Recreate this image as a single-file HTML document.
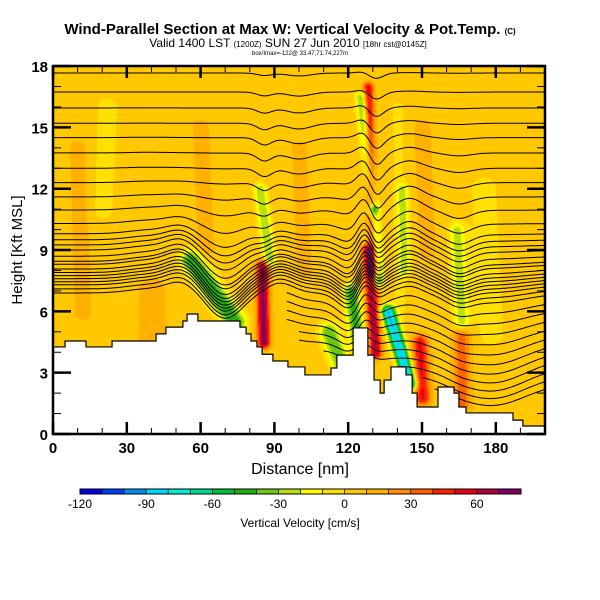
<!DOCTYPE html>
<html><head><meta charset="utf-8">
<style>
html,body{margin:0;padding:0;background:#fff;}
#wrap{position:relative;width:600px;height:600px;overflow:hidden;font-family:"Liberation Sans",sans-serif;}
canvas{position:absolute;left:0;top:0;}
svg{position:absolute;left:0;top:0;}
</style></head>
<body>
<div id="wrap">
<canvas id="field" width="600" height="600"></canvas>
<svg id="ov" width="600" height="600" xmlns="http://www.w3.org/2000/svg">
<text x="290" y="34" text-anchor="middle" font-size="15" font-weight="bold">Wind-Parallel Section at Max W: Vertical Velocity &amp; Pot.Temp. <tspan font-size="8">(C)</tspan></text>
<text x="288" y="47" text-anchor="middle" font-size="12">Valid 1400 LST <tspan font-size="8">(1200Z)</tspan> SUN 27 Jun 2010 <tspan font-size="8">[18hr cst@0145Z]</tspan></text>
<text x="300" y="55" text-anchor="middle" font-size="6">box/Imax=-122@ 33.47,71.74,227m</text>
<g id="contours"></g>
<path id="terrain" fill="#fff" stroke="#000" stroke-width="1.2"/>
<rect x="53" y="66" width="492" height="368" fill="none" stroke="#000" stroke-width="2.5"/>
<g id="ticks"></g>
<g id="ylabels" font-size="15" font-weight="bold" text-anchor="end"></g>
<g id="xlabels" font-size="15" font-weight="bold" text-anchor="middle"></g>
<text x="300" y="474" text-anchor="middle" font-size="16">Distance [nm]</text>
<text transform="translate(22,250) rotate(-90)" text-anchor="middle" font-size="15">Height [Kft MSL]</text>
<g id="cbar"></g>
<g id="cblabels" font-size="12" text-anchor="middle"></g>
<text x="300" y="527" text-anchor="middle" font-size="12">Vertical Velocity [cm/s]</text>
</svg>
</div>
<script>
// ---- data ----
const xTicks = [0,30,60,90,120,150,180];
const yTicks = [0,3,6,9,12,15,18];
const cbTicks = [-120,-90,-60,-30,0,30,60];
const cbColors = ["#0000e0","#0040f0","#0090f0","#00d8f8","#00f0d0","#00d890","#00c040","#20b010","#70c810","#b8e010","#ffff00","#ffe000","#ffc800","#ffb000","#ff9000","#ff6000","#ff2000","#e80018","#b00040","#800060"];
const cbMin = -120, cbStep = 10;
const terrainX = [0,4.9,13.4,24,41.9,45.9,52.8,54.5,58.9,76,78.5,80.5,82.9,85,89.4,95.5,102.4,113,115.4,122,128,130.5,133,134.6,137.4,143.5,146,148,156.5,163,165,167.9,187,191];
const terrainH = [4.26,4.55,4.26,4.55,4.9,5.23,5.53,5.87,5.53,5.23,4.9,4.55,4.26,3.9,3.57,3.28,2.89,3.23,3.86,5.19,3.86,2.64,2.0,2.64,3.28,2.89,2.0,1.32,2.3,2.0,1.32,1.03,0.68,0.39];
// streaks: start dist, start height, end dist, end height, value (cm/s), width (nm)
const streakD0 = [56,85,84,125,130,128,128,136,121,149,166,164,112,142,40,20,100,175,60,150,10,140];
const streakH0 = [8.5,8.2,12,16.5,11,17,9,6,7,4.5,4.8,10,5,12,3.5,11,14,12,15,15,14,16];
const streakD1 = [74,85.5,88,130,132,130,131,145,124,150,166,166,117,143,40,22,102,178,62,152,12,141];
const streakH1 = [5.5,4.5,8.5,11,7.5,8,4,2.5,4.5,1.8,1.5,5.5,3.5,8,7,16,8,5,9,9,6,6];
const streakV = [-55,68,-35,-40,-50,50,62,-95,-50,48,30,-30,-45,-25,9,-8,8,-8,9,9,9,-8];
const streakW = [3,1.8,1.8,1.6,1.6,1.5,1.8,2,2.3,2.3,2.5,2.3,2.8,1.8,5,4,3,5,3,3,3,2];
const baseValue = 5;
// contour levels (kft at undisturbed state) and start distance
const contourLevels = [17.66,16.73,15.95,15.2,14.5,13.75,13.0,12.3,11.6,10.96,10.3,9.8,9.5,9.25,9.0,8.7,8.45,8.3,8.07,7.9,7.75,7.6,7.45,7.3,7.1,6.9,6.5,6.1,5.7,5.3,4.9,4.5,4.1,3.7,3.3,2.9,2.5];
const contourStart = [0,0,0,0,0,0,0,0,0,0,0,0,0,0,0,0,0,0,0,0,0,0,0,0,0,0,95,95,95,95,100,100,110,130,140,150,155];
// wave bumps: center dist, amplitude kft, width nm, height center, height width
const bumpC = [52,70,86,92,121,127,131,145,165,178,38,100];
const bumpA = [0.6,-1.3,-0.4,0.5,-0.8,1.0,-0.8,0.6,-0.5,-1.2,0.2,-0.3];
const bumpW = [6,7,3,6,5,3,3,5,5,14,8,5];
const bumpHC = [8,7.5,13,7,7,9,12,10,9,3.5,8,14];
const bumpHW = [2,2,3,2,2.5,4,4,3,3,2.5,3,3];

// ---- axis functions ----
const X = d => 53 + d*2.46;
const Y = h => 434 - h*20.44;
const NS = "http://www.w3.org/2000/svg";
function mk(tag, attrs, parent){const e=document.createElementNS(NS,tag);for(const k in attrs)e.setAttribute(k,attrs[k]);parent.appendChild(e);return e;}
function hexRGB(h){return [parseInt(h.substr(1,2),16),parseInt(h.substr(3,2),16),parseInt(h.substr(5,2),16)];}

// ---- field ----
const cv=document.getElementById('field'),ctx=cv.getContext('2d');
const img=ctx.createImageData(600,600);
const rgbs=cbColors.map(hexRGB);
for(let py=66;py<434;py++){for(let px=53;px<545;px++){
  let v=baseValue;
  for(let s=0;s<streakV.length;s++){
    const ax=X(streakD0[s]),ay=Y(streakH0[s]),bx=X(streakD1[s]),by=Y(streakH1[s]);
    const dx=bx-ax,dy=by-ay,L=dx*dx+dy*dy;
    let t=L>0?((px-ax)*dx+(py-ay)*dy)/L:0;t=Math.max(0,Math.min(1,t));
    const qx=ax+t*dx-px,qy=ay+t*dy-py;
    const w=streakW[s]*2.46;
    v+=streakV[s]*Math.exp(-(qx*qx+qy*qy)/(2*w*w));
  }
  let i=Math.floor((v-cbMin)/cbStep);i=Math.max(0,Math.min(19,i));
  const c=rgbs[i],o=(py*600+px)*4;
  img.data[o]=c[0];img.data[o+1]=c[1];img.data[o+2]=c[2];img.data[o+3]=255;
}}
ctx.putImageData(img,0,0);

// ---- contours ----
const cg=document.getElementById('contours');
contourLevels.forEach((h0,k)=>{
  let pts=[];
  for(let d=contourStart[k];d<=200;d+=0.5){
    let h=h0;
    for(let b=0;b<bumpC.length;b++){
      h+=bumpA[b]*Math.exp(-((d-bumpC[b])**2)/(2*bumpW[b]**2))*Math.exp(-((h0-bumpHC[b])**2)/(2*bumpHW[b]**2));
    }
    h=Math.min(h,17.95);
    pts.push(X(d).toFixed(1)+","+Y(h).toFixed(1));
  }
  const p=mk('polyline',{points:pts.join(' '),fill:'none',stroke:'#000','stroke-width':'1'},cg);
  
  
});

// ---- terrain ----
let tp="M"+X(0)+","+Y(0);
for(let i=0;i<terrainX.length;i++){
  const x0=X(terrainX[i]),x1=X(i+1<terrainX.length?terrainX[i+1]:200);
  tp+=" L"+x0+","+Y(terrainH[i])+" L"+x1+","+Y(terrainH[i]);
}
tp+=" L"+X(200)+","+Y(0)+" Z";
document.getElementById('terrain').setAttribute('d',tp);

// ---- ticks ----
const tg=document.getElementById('ticks');
for(let h=0;h<=18;h++){
  const major=h%3===0,len=major?18:8;
  mk('line',{x1:53,y1:Y(h),x2:53+len,y2:Y(h),stroke:'#000','stroke-width':major?2.5:1},tg);
  mk('line',{x1:545,y1:Y(h),x2:545-len,y2:Y(h),stroke:'#000','stroke-width':major?2.5:1},tg);
}
for(let d=0;d<=200;d+=10){
  const major=d%30===0,len=major?12:6;
  mk('line',{x1:X(d),y1:434,x2:X(d),y2:434-len,stroke:'#000','stroke-width':major?2.5:1},tg);
  mk('line',{x1:X(d),y1:66,x2:X(d),y2:66+len,stroke:'#000','stroke-width':major?2.5:1},tg);
}
const yl=document.getElementById('ylabels');
yTicks.forEach(v=>{const t=mk('text',{x:48,y:Y(v)+6},yl);t.textContent=v;
  });
const xl=document.getElementById('xlabels');
xTicks.forEach(v=>{const t=mk('text',{x:X(v),y:453},xl);t.textContent=v;
  });

// ---- colorbar ----
const cb=document.getElementById('cbar');
const cbX=v=>80+(v-cbMin)/200*441;
cbColors.forEach((c,i)=>{
  const r=mk('rect',{x:cbX(cbMin+i*cbStep),y:489,width:441/20,height:5,fill:c,stroke:'#000','stroke-width':0.6},cb);
  
});
mk('rect',{x:80,y:489,width:441,height:5,fill:'none',stroke:'#000','stroke-width':1},cb);
const cbl=document.getElementById('cblabels');
cbTicks.forEach(v=>{const t=mk('text',{x:cbX(v),y:508},cbl);t.textContent=v;
  });
</script>
</body></html>
